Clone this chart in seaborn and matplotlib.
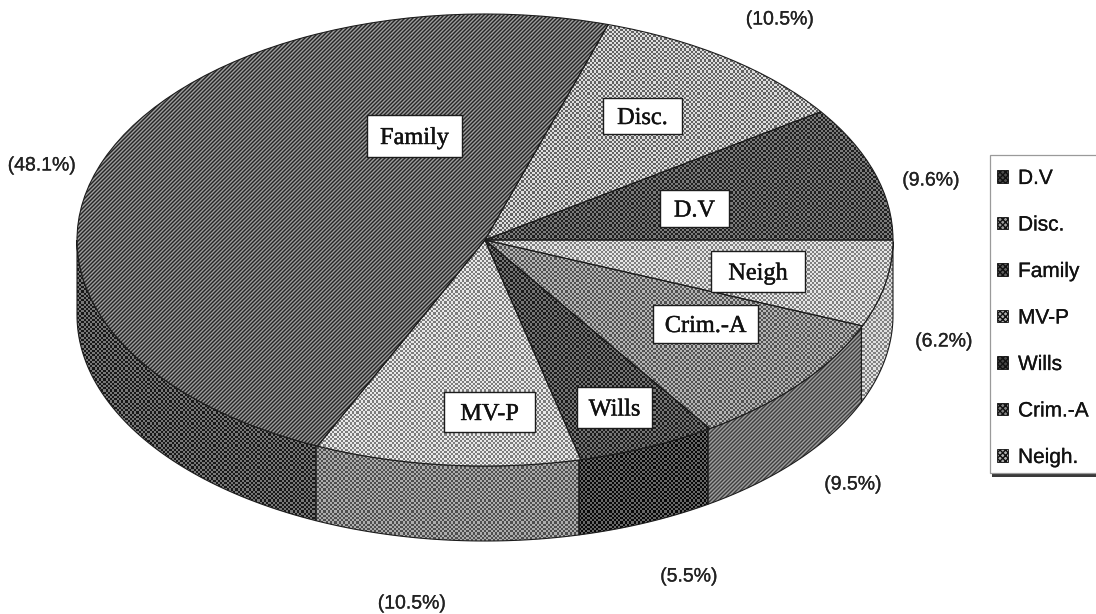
import numpy as np
import seaborn as sns
import matplotlib
matplotlib.use("Agg")
import matplotlib.pyplot as plt
import matplotlib.patheffects as pe
from matplotlib.patches import Patch, Rectangle

# slice shares in drawing order, percent of total
names = ["D.V", "Disc.", "Family", "MV-P", "Wills", "Crim.-A", "Neigh."]
box_names = ["D.V", "Disc.", "Family", "MV-P", "Wills", "Crim.-A", "Neigh"]
shares = [9.6, 10.5, 48.1, 10.5, 5.5, 9.5, 6.2]

# halftone look of each slice: grey level of top face and side wall
top_grey = [78, 160, 98, 178, 72, 132, 178]
side_grey = [60, 140, 72, 125, 56, 110, 176]
top_amp = [45, 62, 60, 55, 45, 50, 52]

W, H = 1096, 614
CX, CY, RX, RY, DEPTH = 485, 240, 408, 226, 75


def px(x, y):
    # picture pixels to pie coordinates
    return (x - CX) / RX, (CY - y) / RY


def halftone(grey, amp, lines=False):
    yy, xx = np.mgrid[0:H, 0:W]
    if lines:
        wave = np.cos(2 * np.pi * (xx + yy) / 4)
    else:
        # square checker a bit over 2 px a cell, it beats a bit like the scan does
        wave = np.sign(np.sin(2 * np.pi * (xx + 0.5) / 4.4) * np.sin(2 * np.pi * (yy + 0.5) / 4.4))
    return np.clip(grey + amp * wave, 0, 255)


sns.set_theme(style="white")
plt.rcParams["font.family"] = ["Liberation Sans", "DejaVu Sans"]
thick = [pe.withStroke(linewidth=0.2, foreground="#222222")]
thick_serif = [pe.withStroke(linewidth=0.3, foreground="#111111")]

fig = plt.figure(figsize=(W / 100, H / 100), dpi=100, facecolor="white")
ax = fig.add_axes([0, 0, 1, 1])

wedges, _ = ax.pie(shares, startangle=0, counterclock=True, radius=1,
                   wedgeprops=dict(edgecolor="#1c1c1c", linewidth=0.8))
ax.set_aspect("auto")
x0, y0 = px(0, H)
x1, y1 = px(W, 0)
extent = (x0, x1, y0, y1)
ax.set_xlim(x0, x1)
ax.set_ylim(y0, y1)

# side walls only show on the front half of the pie
depth = DEPTH / RY
edges = np.cumsum([0] + shares) * 3.6
for i, name in enumerate(names):
    start, end = max(edges[i], 180), edges[i + 1]
    if end <= 180:
        continue
    ang = np.radians(np.linspace(start, end, 60))
    arc_x = np.cos(ang)
    arc_y = np.sin(ang)
    poly = ax.fill(np.r_[arc_x, arc_x[::-1]], np.r_[arc_y, arc_y[::-1] - depth],
                   facecolor="none", edgecolor="#1c1c1c", linewidth=0.8, zorder=3)[0]
    im = ax.imshow(halftone(side_grey[i], 48, lines=name == "Crim.-A"), cmap="gray", vmin=0, vmax=255,
                   extent=extent, aspect="auto", interpolation="nearest", zorder=2)
    im.set_clip_path(poly)

# top faces
for i, wedge in enumerate(wedges):
    wedge.set_facecolor("none")
    wedge.set_zorder(5)
    im = ax.imshow(halftone(top_grey[i], top_amp[i], lines=names[i] == "Family"), cmap="gray", vmin=0, vmax=255,
                   extent=extent, aspect="auto", interpolation="nearest", zorder=4)
    im.set_clip_path(wedge)

# white name boxes on the slices, pixel corners
boxes = [(660, 190, 729, 227), (603, 98, 682, 134), (367, 115, 462, 157),
         (444, 392, 535, 432), (577, 387, 652, 428), (653, 305, 758, 343),
         (711, 251, 805, 292)]
for label, (bx0, by0, bx1, by1) in zip(box_names, boxes):
    ax0, ay0 = px(bx0, by1)
    ax1, ay1 = px(bx1, by0)
    ax.add_patch(Rectangle((ax0, ay0), ax1 - ax0, ay1 - ay0, facecolor="white",
                           edgecolor="#1c1c1c", linewidth=1.0, zorder=6))
    ax.text((ax0 + ax1) / 2, (ay0 + ay1) / 2, label, family=["Liberation Serif"], fontsize=17.5,
            color="#111111", ha="center", va="center_baseline", zorder=7, path_effects=thick_serif)

# percent labels outside the pie
pct_pos = [(931, 181), (780, 20), (42, 166), (412, 604), (689, 577), (853, 485), (944, 342)]
for v, (tx, ty) in zip(shares, pct_pos):
    dx, dy = px(tx, ty)
    ax.text(dx, dy, f"({v}%)", fontsize=14, color="#222222", ha="center", va="center",
            zorder=7, path_effects=thick)

# legend frame runs off the right edge, shadow along the bottom
fx0, fy1 = px(990, 473)
fx1, fy0 = px(1104, 155)
sx0, sy0 = px(992, 477)
ax.add_patch(Rectangle((sx0, sy0), fx1 - sx0, fy1 - sy0, facecolor="#3a3a3a", edgecolor="none", zorder=8))
ax.add_patch(Rectangle((fx0, fy1), fx1 - fx0, fy0 - fy1, facecolor="white", edgecolor="#9a9a9a",
                       linewidth=0.9, zorder=8))

handles = [Patch(facecolor=(g / 255, g / 255, g / 255), edgecolor="#111111",
                 linewidth=0.6, hatch="xxxxxx") for g in top_grey]
leg = ax.legend(handles, names, loc="upper left", bbox_to_anchor=(997 / W, 1 - 169 / H),
                bbox_transform=ax.transAxes, borderaxespad=0, borderpad=0, fontsize=15,
                handlelength=0.53, handleheight=0.53, handletextpad=0.48, labelspacing=1.32,
                frameon=False, labelcolor="#111111")
leg.set_zorder(9)
for t in leg.get_texts():
    t.set_path_effects(thick)

fig.savefig("out.png", dpi=100)
